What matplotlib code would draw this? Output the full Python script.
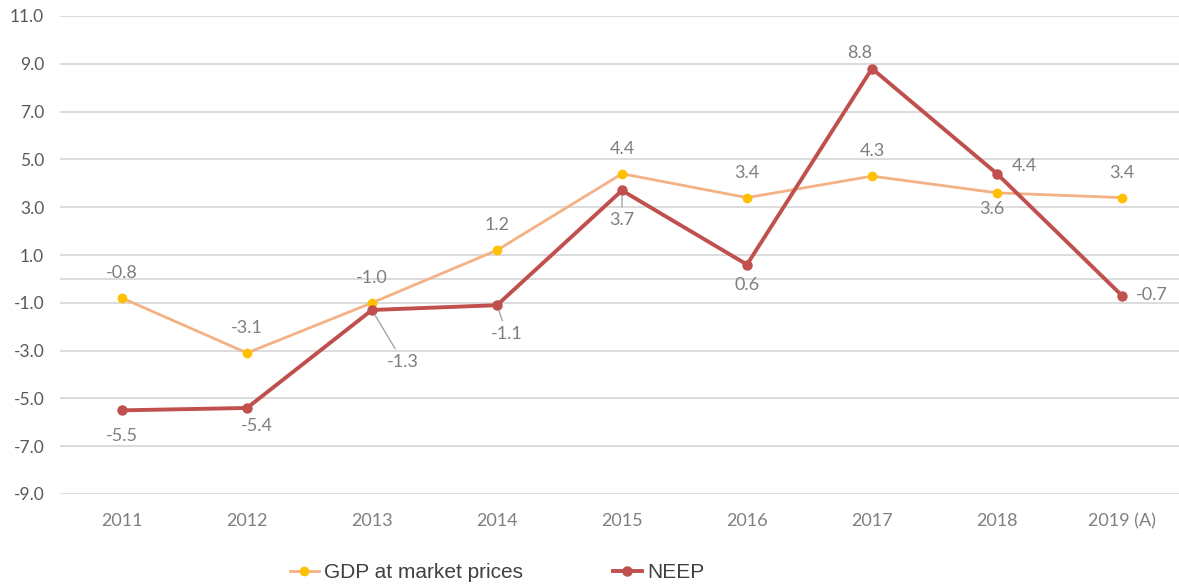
import numpy as np
import matplotlib.pyplot as plt
from matplotlib.lines import Line2D

# ---- data ----
years = ['2011', '2012', '2013', '2014', '2015', '2016', '2017', '2018', '2019 (A)']
gdp = [-0.8, -3.1, -1.0, 1.2, 4.4, 3.4, 4.3, 3.6, 3.4]
neep = [-5.5, -5.4, -1.3, -1.1, 3.7, 0.6, 8.8, 4.4, -0.7]

# label offsets in pixels (dx, dy)
gdp_off = [(0, 25), (0, 25), (0, 25), (0, 25), (0, 25), (0, 25), (0, 25), (-5, -16), (0, 25)]
neep_off = [(0, -26), (10, -18), (31, -52), (10, -29), (0, -30), (0, -20), (-12, 16), (27, 8), (30, 1)]
neep_leader = [False, False, True, True, True, False, False, False, False]

plt.rcParams['font.family'] = ['Lato', 'DejaVu Sans']

fig = plt.figure(figsize=(11.79, 5.87), dpi=100)
ax = fig.add_axes([59.5 / 1179, 93 / 587, 1125 / 1179, 478 / 587])

x = np.arange(len(years))
grid_c = '#d9d9d9'
for v in np.arange(-9, 12, 2):
    ax.axhline(v, color=grid_c, lw=1.3, zorder=0)
ax.axhline(0, color=grid_c, lw=1.3, zorder=0)

ax.plot(x, gdp, color='#f4b183', lw=2, marker='o', ms=6,
        mfc='#ffc000', mec='#ffc000', zorder=3)
ax.plot(x, neep, color='#c0504d', lw=2.8, marker='o', ms=6.5,
        mfc='#c0504d', mec='#c0504d', zorder=4)

lab_c = '#7f7f7f'
for i, v in enumerate(gdp):
    ax.annotate(f'{v:.1f}', (x[i], v), xytext=gdp_off[i], textcoords='offset pixels',
                ha='center', va='center', fontsize=13, color=lab_c, zorder=5)
for i, v in enumerate(neep):
    ap = None
    if neep_leader[i]:
        ap = dict(arrowstyle='-', color='#a6a6a6', lw=1, shrinkA=2, shrinkB=4)
    ax.annotate(f'{v:.1f}', (x[i], v), xytext=neep_off[i], textcoords='offset pixels',
                ha='center', va='center', fontsize=13, color=lab_c, zorder=5,
                arrowprops=ap)

ax.set_xlim(-0.5, len(years) - 0.5)
ax.set_ylim(-9, 11)
ax.set_yticks(np.arange(-9, 12, 2))
ax.set_yticklabels([f'{v:.1f}' for v in np.arange(-9, 12, 2)])
ax.set_xticks(x)
ax.set_xticklabels(years)
for s in ax.spines.values():
    s.set_visible(False)
ax.tick_params(axis='y', length=0, pad=11, labelsize=12.5, labelcolor='#595959')
ax.tick_params(axis='x', length=0, pad=14, labelsize=13, labelcolor='#7f7f7f')

handles = [
    Line2D([], [], color='#f4b183', lw=2, marker='o', ms=6, mfc='#ffc000', mec='#ffc000'),
    Line2D([], [], color='#c0504d', lw=2.8, marker='o', ms=6.5, mfc='#c0504d', mec='#c0504d'),
]
fig.legend(handles, ['GDP at market prices', 'NEEP'], loc='center',
           bbox_to_anchor=(0.4217, 0.024), ncol=2, frameon=False,
           prop={'family': 'Liberation Sans', 'size': 15}, labelcolor='#404040',
           handlelength=1.4, handletextpad=0.25, columnspacing=4.3)

fig.savefig('out.png', dpi=100)
